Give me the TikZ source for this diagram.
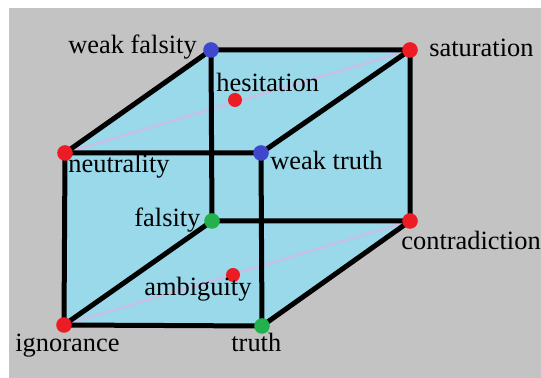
\documentclass[tikz,border=0pt]{standalone}
\usepackage{fontspec}
\setmainfont{Liberation Serif}
\definecolor{bgray}{HTML}{C3C3C3}
\definecolor{cubefill}{HTML}{99D9EA}
\definecolor{lav}{HTML}{C8BFE7}
\definecolor{dred}{HTML}{ED1C24}
\definecolor{dblue}{HTML}{3F48CC}
\definecolor{dgreen}{HTML}{22B14C}
\tikzset{
  edge/.style={line width=2.5pt,line cap=round,line join=round},
  diag/.style={line width=1.2pt,lav},
  dot/.style={circle,inner sep=0pt,minimum size=7.8pt},
  smalldot/.style={circle,inner sep=0pt,minimum size=7pt},
  lbl/.style={anchor=base west,inner sep=0pt,font=\rmfamily\fontsize{13.2}{15}\selectfont}
}
\begin{document}
\begin{tikzpicture}[x=0.5pt,y=-0.5pt]
\useasboundingbox (0,0) rectangle (541,378);
\fill[white] (0,0) rectangle (541,378);
\fill[bgray] (9,8) rectangle (541,378);
% vertices
\coordinate (wf) at (211,50);
\coordinate (sa) at (410,50);
\coordinate (ne) at (65,153);
\coordinate (wt) at (261,153);
\coordinate (fa) at (212,221);
\coordinate (co) at (410,221);
\coordinate (ig) at (64,325);
\coordinate (tr) at (262,326);
\coordinate (he) at (235,100);
\coordinate (am) at (233,275);
% fill
\fill[cubefill] (wf) -- (sa) -- (co) -- (tr) -- (ig) -- (ne) -- cycle;
% lavender diagonals
\draw[diag] (ne) -- (sa);
\draw[diag] (ig) -- (co);
% edges
\draw[edge] (ne) -- (wt) -- (tr) -- (ig) -- cycle;
\draw[edge] (wf) -- (sa) -- (co) -- (fa) -- cycle;
\draw[edge] (wf) -- (ne);
\draw[edge] (sa) -- (wt);
\draw[edge] (co) -- (tr);
\draw[edge] (fa) -- (ig);
% dots
\node[dot,fill=dblue] (dwf) at (wf) {};
\node[dot,fill=dred] (dsa) at (sa) {};
\node[dot,fill=dred] (dne) at (ne) {};
\node[dot,fill=dblue] (dwt) at (wt) {};
\node[dot,fill=dgreen] (dfa) at (fa) {};
\node[dot,fill=dred] (dco) at (co) {};
\node[dot,fill=dred] (dig) at (ig) {};
\node[dot,fill=dgreen] (dtr) at (tr) {};
\node[smalldot,fill=dred] (dhe) at (he) {};
\node[smalldot,fill=dred] (dam) at (am) {};
% labels
\node[lbl] (lwf) at (68,54) {weak falsity};
\node[lbl] (lsa) at (429,57) {saturation};
\node[lbl] (lhe) at (216,92) {hesitation};
\node[lbl] (lne) at (68,173) {neutrality};
\node[lbl] (lwt) at (270,170) {weak truth};
\node[lbl] (lfa) at (134,227) {falsity};
\node[lbl] (lco) at (401,250) {contradiction};
\node[lbl] (lam) at (144,296) {ambiguity};
\node[lbl] (lig) at (15,352) {ignorance};
\node[lbl] (ltr) at (231,352) {truth};
\end{tikzpicture}
\end{document}
